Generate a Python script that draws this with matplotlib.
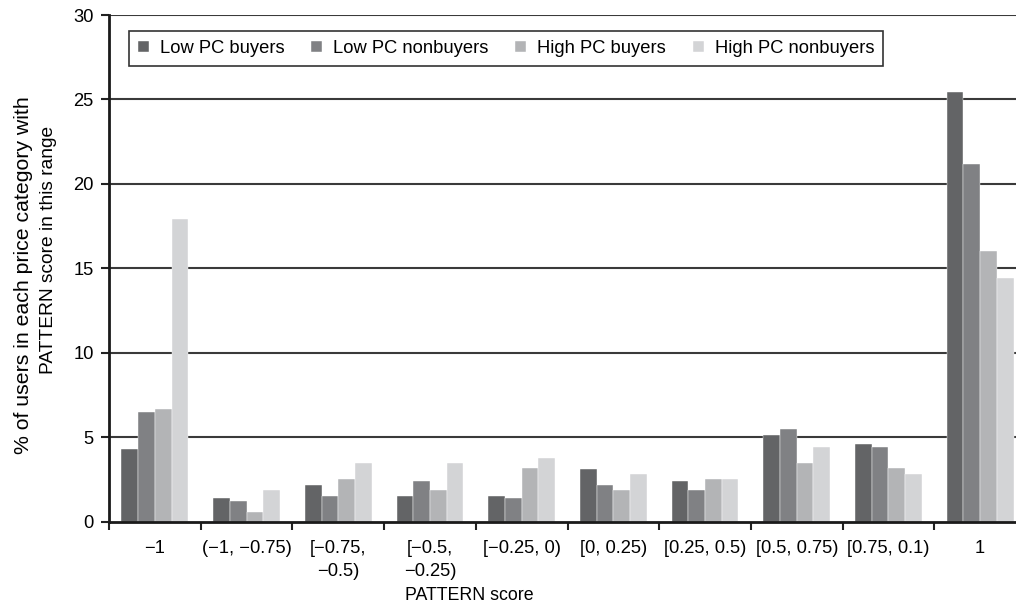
import matplotlib
matplotlib.use("Agg")
import matplotlib.pyplot as plt
import numpy as np

categories = ["\u22121", "(\u22121, \u22120.75)", "[\u22120.75,\n\u22120.5)", "[\u22120.5,\n\u22120.25)",
              "[\u22120.25, 0)", "[0, 0.25)", "[0.25, 0.5)", "[0.5, 0.75)", "[0.75, 0.1)", "1"]
low_pc_buyers = [4.3, 1.4, 2.2, 1.5, 1.5, 3.1, 2.4, 5.15, 4.6, 25.45]
low_pc_nonbuyers = [6.5, 1.2, 1.5, 2.4, 1.4, 2.2, 1.85, 5.5, 4.45, 21.15]
high_pc_buyers = [6.7, 0.6, 2.55, 1.9, 3.2, 1.9, 2.55, 3.5, 3.2, 16.0]
high_pc_nonbuyers = [17.9, 1.9, 3.5, 3.5, 3.8, 2.85, 2.55, 4.45, 2.85, 14.4]
series_names = ["Low PC buyers", "Low PC nonbuyers", "High PC buyers", "High PC nonbuyers"]
series = [low_pc_buyers, low_pc_nonbuyers, high_pc_buyers, high_pc_nonbuyers]
colors = ["#636466", "#808184", "#b3b4b6", "#d3d4d6"]
yticks = [0, 5, 10, 15, 20, 25, 30]
ylabel_lines = ["% of users in each price category with", "PATTERN score in this range"]

plt.rcParams['font.family'] = ['Liberation Sans', 'DejaVu Sans']
fs = 13.2

fig = plt.figure(figsize=(10.16, 6.10), dpi=100)
ax = fig.add_axes([109/1016, 1-521.7/610, 917/1016, 506.7/610])

n = len(categories)
x = np.arange(n)
w = 0.182
for j, (name, vals, c) in enumerate(zip(series_names, series, colors)):
    ax.bar(x + (j - 1.5) * w, vals, width=w, color=c, label=name,
           edgecolor='white', linewidth=0.3, zorder=3)

ax.set_xlim(-0.5, n - 0.5)
ax.set_ylim(0, 30)
ax.set_yticks(yticks)
ax.set_yticklabels([str(t) for t in yticks], fontsize=fs)
for t in yticks[1:]:
    ax.axhline(t, color='#3a3a3a', linewidth=1.5, zorder=1)

ax.set_xticks(np.arange(-0.5, n - 0.5, 1.0))
ax.set_xticklabels([])
ax.set_xticks(x, minor=True)
ax.set_xticklabels(categories, minor=True, fontsize=fs, linespacing=1.45)
ax.tick_params(axis='x', which='major', direction='out', length=6, width=1.5, color='#222222')
ax.tick_params(axis='x', which='minor', length=0, pad=13)
ax.tick_params(axis='y', direction='out', length=6, width=1.5, color='#222222', pad=5)

for s in ['top', 'right']:
    ax.spines[s].set_visible(False)
for s in ['left', 'bottom']:
    ax.spines[s].set_linewidth(2)
    ax.spines[s].set_color('#1a1a1a')
    ax.spines[s].set_zorder(5)

ax.set_xlabel("PATTERN score", fontsize=12.8)
ax.xaxis.set_label_coords(0.3926, -0.128)

# two-line y label, drawn as two rotated texts
fig.text(24/1016, 1-275/610, ylabel_lines[0], rotation=90, ha='center', va='center',
         fontsize=15.3)
fig.text(49/1016, 1-250/610, ylabel_lines[1], rotation=90, ha='center', va='center',
         fontsize=13.8)

leg = ax.legend(loc='upper left', bbox_to_anchor=(129/1016, 1-30.7/610),
                bbox_transform=fig.transFigure, ncol=4, fontsize=fs,
                handlelength=0.6, handleheight=0.6, handletextpad=0.6,
                columnspacing=1.45, borderpad=0.5, borderaxespad=0,
                fancybox=False, framealpha=1, edgecolor='#333333')
leg.get_frame().set_linewidth(1.2)
leg.set_zorder(10)

fig.savefig("out.png", dpi=100)
